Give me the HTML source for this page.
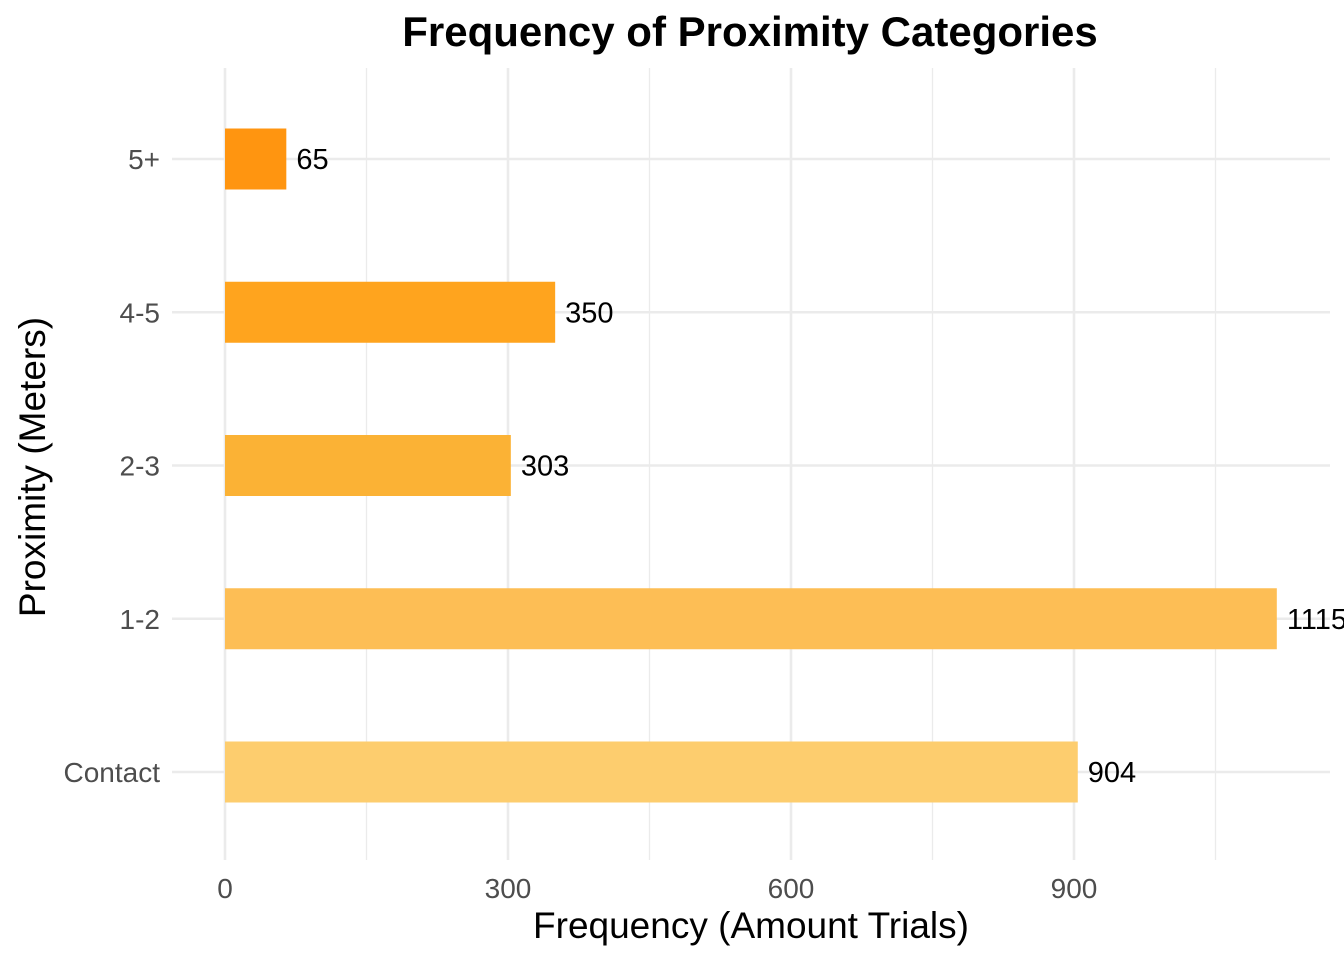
<!DOCTYPE html>
<html><head><meta charset="utf-8"><style>
body{margin:0;background:#fff;}
svg text{font-family:"Liberation Sans",Arial,sans-serif;}
</style></head><body>
<svg id="chart" width="1344" height="960" xmlns="http://www.w3.org/2000/svg">
<text x="750" y="46" text-anchor="middle" font-size="42" font-weight="bold" fill="#000">Frequency of Proximity Categories</text>
<g id="grid"></g>
<g id="bars"></g>
<g id="labels"></g>
<text x="751" y="938" text-anchor="middle" font-size="37" fill="#000">Frequency (Amount Trials)</text>
<text transform="translate(45,467) rotate(-90)" text-anchor="middle" font-size="37" fill="#000">Proximity (Meters)</text>
</svg>
<script>
const categories = ["Contact","1-2","2-3","4-5","5+"];
const values = [904,1115,303,350,65];
const valueLabels = ["904","1115","303","350","65"];
const colors = ["#FDCD6E","#FDBE55","#FBB235","#FFA41E","#FF9510"];
const xTicks = [0,300,600,900];
const xMinor = [150,450,750,1050];

const NS="http://www.w3.org/2000/svg";
const x0=225, pxPer=(1074-225)/900;
const xs=v=>x0+v*pxPer;
const yBottom=772, step=153.25;
const ys=i=>yBottom-i*step;
const barH=61;
const grid=document.getElementById('grid'), bars=document.getElementById('bars'), labels=document.getElementById('labels');
function mk(tag,attrs,parent){const e=document.createElementNS(NS,tag);for(const k in attrs)e.setAttribute(k,attrs[k]);parent.appendChild(e);return e;}

xMinor.forEach(v=>{
  const l=mk('line',{x1:xs(v),x2:xs(v),y1:68,y2:860,stroke:'#ebebeb','stroke-width':1.3},grid);
  
  
});
xTicks.forEach(v=>{
  const l=mk('line',{x1:xs(v),x2:xs(v),y1:68,y2:860,stroke:'#ebebeb','stroke-width':2.6},grid);
  
  
  const t=mk('text',{x:xs(v),y:898,'text-anchor':'middle','font-size':28,fill:'#4d4d4d'},labels);
  t.textContent=v;
  
  
});
categories.forEach((c,i)=>{
  const y=ys(i);
  const l=mk('line',{x1:172,x2:1330,y1:y,y2:y,stroke:'#ebebeb','stroke-width':2.6},grid);
  
  
  const t=mk('text',{x:160,y:y+10,'text-anchor':'end','font-size':28,fill:'#4d4d4d'},labels);
  t.textContent=c;
  
  
  const r=mk('rect',{x:x0,y:y-barH/2,width:xs(values[i])-x0,height:barH,fill:colors[i]},bars);
  
  
  const vt=mk('text',{x:xs(values[i])+10,y:y+10,'font-size':29,fill:'#000'},labels);
  vt.textContent=valueLabels[i];
  
  
});
</script>
</body></html>
